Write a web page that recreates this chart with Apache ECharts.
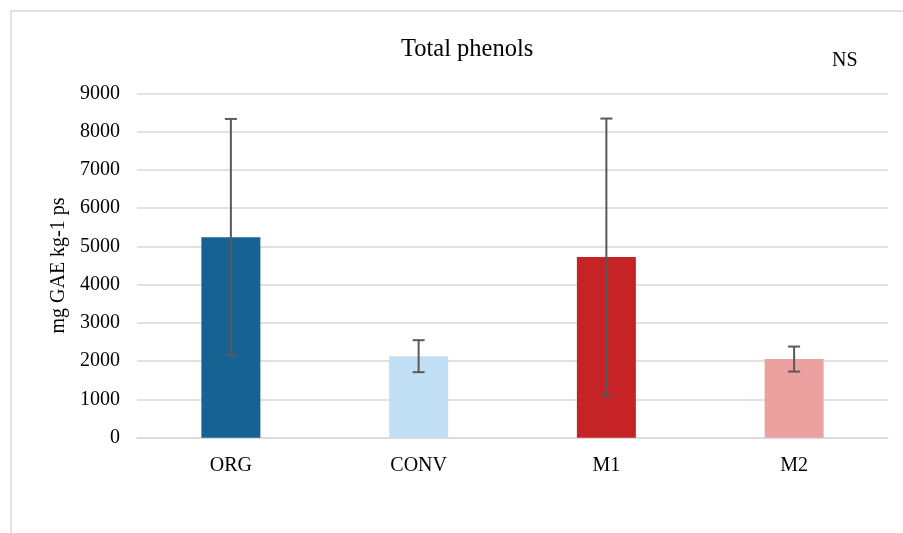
<!DOCTYPE html>
<html>
<head>
<meta charset="utf-8">
<style>
  html, body { margin: 0; padding: 0; background: #fff; }
  #chart { width: 903px; height: 533px; }
</style>
<script src="https://cdn.jsdelivr.net/npm/echarts@6/dist/echarts.min.js"></script>
</head>
<body>
<div id="chart"></div>
<script>
// Treatments and their mean total phenol content with standard deviation
const categories = ['ORG', 'CONV', 'M1', 'M2'];
const means = [5240, 2130, 4720, 2055];
const errors = [3090, 418, 3620, 327];
const barColors = ['#156293', '#c2e0f5', '#c52326', '#eca1a1'];
const yTicks = [0, 1000, 2000, 3000, 4000, 5000, 6000, 7000, 8000, 9000];

const serif = '"Liberation Serif", "Times New Roman", serif';
const chart = echarts.init(document.getElementById('chart'));

const errorData = categories.map((c, i) => [i, means[i] - errors[i], means[i] + errors[i]]);

chart.setOption({
  animation: false,
  backgroundColor: '#fff',
  title: {
    text: 'Total phenols',
    left: 396,
    top: 32,
    textStyle: { fontFamily: serif, fontSize: 24.5, fontWeight: 'normal', color: '#000' }
  },
  graphic: [
    { type: 'rect', shape: { x: 11, y: 11, width: 900, height: 540 },
      style: { fill: 'none', stroke: '#d9d9d9', lineWidth: 1.5 }, silent: true },
    { type: 'text', left: 832, top: 51,
      style: { text: 'NS', font: '20px ' + serif, fill: '#000' } }
  ],
  grid: { left: 137, right: 15, top: 93.3, bottom: 95.3 },
  xAxis: {
    type: 'category',
    data: categories,
    axisTick: { show: false },
    axisLine: { lineStyle: { color: '#d9d9d9', width: 1.5 } },
    axisLabel: { fontFamily: serif, fontSize: 20, color: '#000', margin: 18 }
  },
  yAxis: {
    type: 'value',
    min: yTicks[0],
    max: yTicks[yTicks.length - 1],
    interval: 1000,
    name: 'mg GAE kg-1 ps',
    nameLocation: 'middle',
    nameGap: 66,
    nameTextStyle: { fontFamily: serif, fontSize: 20, color: '#000' },
    axisLine: { show: false },
    axisTick: { show: false },
    axisLabel: {
      fontFamily: serif, fontSize: 20, color: '#000', margin: 17,
      formatter: v => String(v)
    },
    splitLine: { lineStyle: { color: '#d9d9d9', width: 1.5 } }
  },
  series: [
    {
      type: 'bar',
      barWidth: 59,
      data: means.map((v, i) => ({ value: v, itemStyle: { color: barColors[i] } }))
    },
    {
      type: 'custom',
      z: 10,
      data: errorData,
      renderItem: function (params, api) {
        const x = api.coord([api.value(0), 0])[0];
        const lo = api.coord([api.value(0), api.value(1)])[1];
        const hi = api.coord([api.value(0), api.value(2)])[1];
        const cap = 6;
        const style = { stroke: '#595959', lineWidth: 2 };
        return {
          type: 'group',
          children: [
            { type: 'line', shape: { x1: x, y1: hi, x2: x, y2: lo }, style },
            { type: 'line', shape: { x1: x - cap, y1: hi, x2: x + cap, y2: hi }, style },
            { type: 'line', shape: { x1: x - cap, y1: lo, x2: x + cap, y2: lo }, style }
          ]
        };
      }
    }
  ]
});
</script>
</body>
</html>
